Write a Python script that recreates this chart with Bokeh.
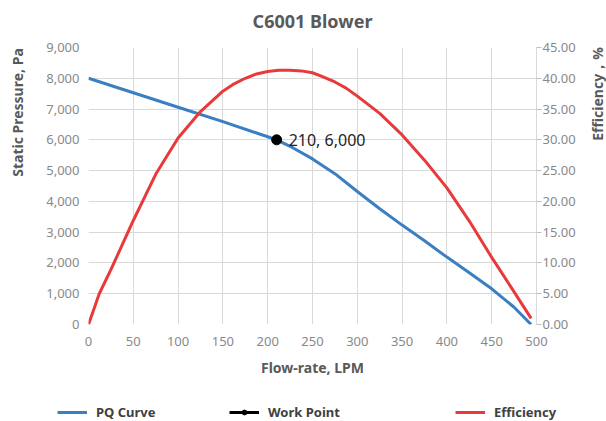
import math
from bokeh.plotting import figure
from bokeh.layouts import column, row
from bokeh.models import (Range1d, LinearAxis, FixedTicker, NumeralTickFormatter,
                          Legend, LegendItem, ColumnDataSource, Label)
from bokeh.core.properties import value
from bokeh.embed import file_html
from bokeh.resources import INLINE

# ---- data ----
pq_flow = [0, 50, 100, 150, 200, 210, 225, 250, 275, 300, 325, 350, 375, 400, 425, 450, 475, 494]
pq_pressure = [8000, 7530, 7060, 6590, 6100, 6000, 5790, 5380, 4900, 4320, 3760, 3230, 2720, 2190, 1680, 1160, 560, 0]

eff_flow = [0, 12, 25, 50, 75, 100, 125, 150, 162.5, 175, 187.5, 200, 212.5, 225, 237.5,
            250, 262.5, 275, 287.5, 300, 325, 350, 375, 400, 425, 450, 475, 494]
eff_value = [0, 5.0, 8.9, 16.9, 24.4, 30.3, 34.6, 37.9, 39.1, 40.0, 40.7, 41.1, 41.3, 41.3, 41.2,
             40.9, 40.2, 39.4, 38.4, 37.1, 34.3, 30.8, 26.7, 22.2, 16.8, 10.9, 5.3, 1.0]

work_flow = [210]
work_pressure = [6000]
work_label = ["210, 6,000"]

x_ticks = [0, 50, 100, 150, 200, 250, 300, 350, 400, 450, 500]
y_ticks = [0, 1000, 2000, 3000, 4000, 5000, 6000, 7000, 8000, 9000]
y2_ticks = [0, 5, 10, 15, 20, 25, 30, 35, 40, 45]

title_text = "C6001 Blower"
x_label = "Flow-rate, LPM"
y_label = "Static Pressure, Pa"
y2_label = "Efficiency，%"
legend_labels = ["PQ Curve", "Work Point", "Efficiency"]

# ---- styles ----
FONT = "Noto Sans"
BLUE = "#3A7FC1"
RED = "#E8393B"
GRID = "#D9D9D9"
TICK_TXT = "#898989"
LABEL_TXT = "#595959"
NAN = float("nan")


def no_align(fig):
    try:
        fig.frame_align = False
    except Exception:
        pass


def strip(w, h):
    f = figure(width=w, height=h, output_backend="svg", toolbar_location=None,
               x_axis_type=None, y_axis_type=None, x_range=Range1d(0, w), y_range=Range1d(0, h),
               min_border=0)
    f.outline_line_color = None
    f.grid.visible = False
    f.background_fill_color = "white"
    f.border_fill_color = "white"
    no_align(f)
    return f


TOP_H, LEFT_W, RIGHT_W, LEG_H = 36, 30, 18, 24
MAIN_H = 421 - TOP_H - LEG_H
MAIN_W = 606 - LEFT_W - RIGHT_W

p = figure(width=MAIN_W, height=MAIN_H, output_backend="svg", toolbar_location=None,
           x_range=Range1d(0, 500), y_range=Range1d(0, 9000),
           min_border_left=88 - LEFT_W, min_border_right=606 - RIGHT_W - 536,
           min_border_top=47 - TOP_H, min_border_bottom=TOP_H + MAIN_H - 324)
no_align(p)
p.outline_line_color = None
p.background_fill_color = "white"
p.border_fill_color = "white"

p.extra_y_ranges = {"eff": Range1d(0, 45)}

# axes
xa = p.xaxis[0]
xa.ticker = FixedTicker(ticks=x_ticks)
ya = p.yaxis[0]
ya.ticker = FixedTicker(ticks=y_ticks)
ya.formatter = NumeralTickFormatter(format="0,0")

y2 = LinearAxis(y_range_name="eff", ticker=FixedTicker(ticks=y2_ticks),
                formatter=NumeralTickFormatter(format="0.00"))
p.add_layout(y2, "right")

for ax in (xa, ya, y2):
    ax.axis_line_color = None
    ax.major_tick_line_color = None
    ax.minor_tick_line_color = None
    ax.major_label_text_font = FONT
    ax.major_label_text_font_size = "13px"
    ax.major_label_text_color = TICK_TXT
    ax.axis_label_text_font = FONT
    ax.axis_label_text_font_size = "14px"
    ax.axis_label_text_font_style = "bold"
    ax.axis_label_text_color = LABEL_TXT

xa.axis_label = x_label
xa.major_label_standoff = 6
xa.axis_label_standoff = 9

ya.major_label_standoff = 3

y2.axis_line_color = GRID
y2.major_tick_line_color = "#BFBFBF"
y2.major_tick_in = 0
y2.major_tick_out = 5
y2.major_label_standoff = 1

p.xgrid.ticker = FixedTicker(ticks=x_ticks)
p.ygrid.ticker = FixedTicker(ticks=y_ticks)
p.xgrid.grid_line_color = GRID
p.ygrid.grid_line_color = GRID

# glyphs
r_pq = p.line(pq_flow, pq_pressure, line_color=BLUE, line_width=3)
r_eff = p.line(eff_flow, eff_value, line_color=RED, line_width=3, y_range_name="eff")
wp_src = ColumnDataSource(dict(x=work_flow, y=work_pressure, t=work_label))
r_wp = p.scatter("x", "y", source=wp_src, marker="circle", size=10,
                 fill_color="black", line_color="black")
p.text("x", "y", text="t", source=wp_src, x_offset=12, text_baseline="middle",
       text_align="left", text_font=value(FONT), text_font_size="16px", text_color="#1E1E1E")

# ---- title strip ----
top = strip(606, TOP_H)
top.add_layout(Label(x=312, y=TOP_H - 20, text=title_text, text_align="center",
                     text_baseline="middle", text_font=FONT, text_font_size="18px",
                     text_font_style="bold", text_color=LABEL_TXT))

# ---- side strips carrying the rotated axis titles ----
left = strip(LEFT_W, MAIN_H)
left.add_layout(Label(x=17, y=TOP_H + MAIN_H - 112, text=y_label, angle=math.pi / 2,
                      text_align="center", text_baseline="middle", text_font=FONT,
                      text_font_size="14px", text_font_style="bold", text_color=LABEL_TXT))
right = strip(RIGHT_W, MAIN_H)
right.add_layout(Label(x=596.5 - (606 - RIGHT_W), y=TOP_H + MAIN_H - 93.5, text=y2_label,
                       angle=math.pi / 2, text_align="center", text_baseline="middle",
                       text_font=FONT, text_font_size="14px", text_font_style="bold",
                       text_color=LABEL_TXT))

# ---- legend strip below the chart ----
lg = strip(606, LEG_H)
k_pq = lg.line([NAN], [NAN], line_color=BLUE, line_width=3)
k_wl = lg.line([NAN], [NAN], line_color="black", line_width=3)
k_wp = lg.scatter([NAN], [NAN], marker="circle", size=10, fill_color="black", line_color="black")
k_eff = lg.line([NAN], [NAN], line_color=RED, line_width=3)

entries = [
    (legend_labels[0], [k_pq], 57),
    (legend_labels[1], [k_wl, k_wp], 229),
    (legend_labels[2], [k_eff], 455),
]
for label, rends, xloc in entries:
    leg = Legend(items=[LegendItem(label=label, renderers=rends)], location=(xloc, 0),
                 orientation="horizontal", padding=0, margin=0, border_line_color=None,
                 background_fill_alpha=0, glyph_width=30, glyph_height=12, label_height=12,
                 label_standoff=9, label_text_font=FONT, label_text_font_size="13px",
                 label_text_font_style="bold", label_text_color="#404040")
    lg.add_layout(leg, "center")

layout = column(top, row(left, p, right, spacing=0), lg, spacing=0)
open("out.html", "w").write(file_html(layout, INLINE))
